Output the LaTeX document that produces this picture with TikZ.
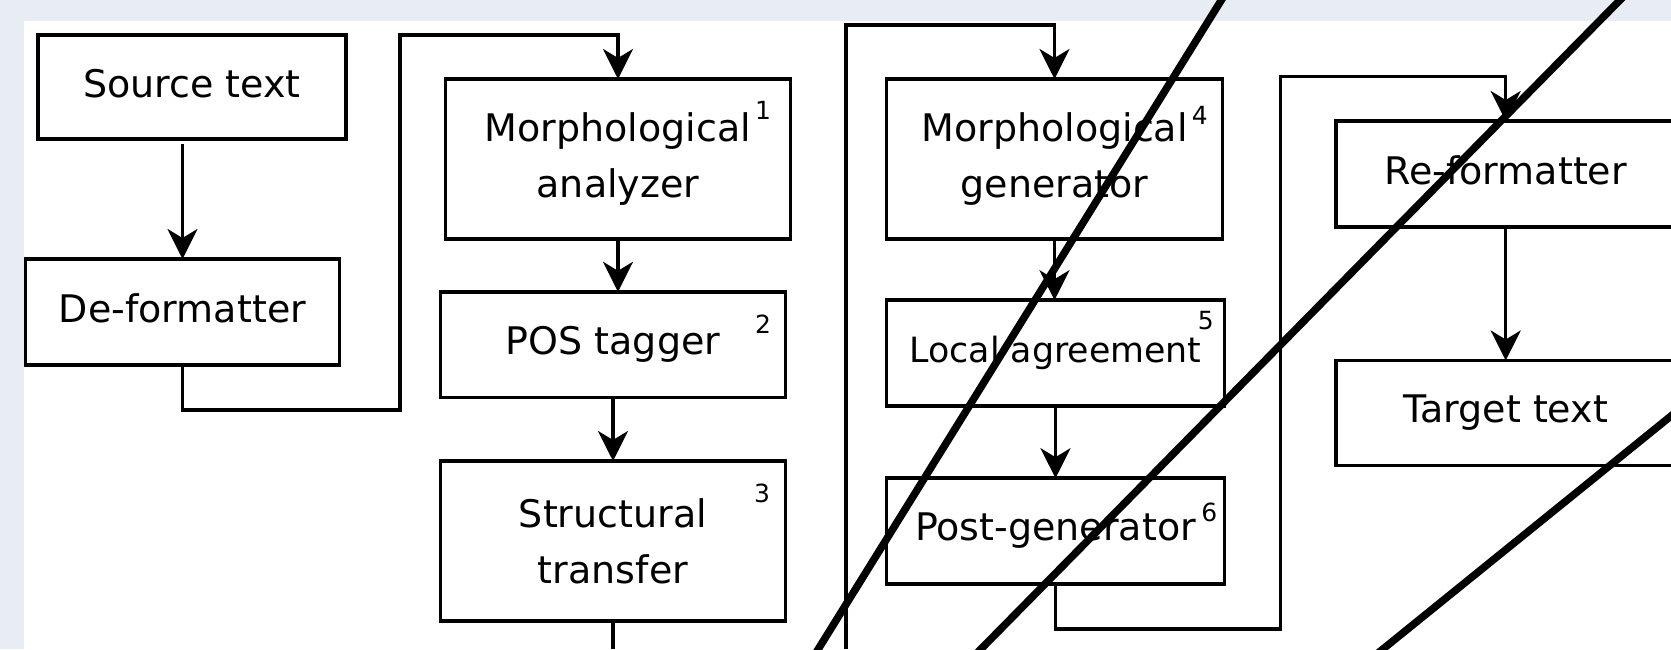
\documentclass[tikz,border=0pt]{standalone}
\usepackage{fontspec}
\setmainfont{DejaVu Sans}
\usetikzlibrary{positioning,arrows.meta}

\definecolor{pagebg}{HTML}{E8ECF4}

\tikzset{
  block/.style={draw, line width=1.75pt, minimum width=172.5pt, minimum height=52.8pt,
    inner sep=0pt, outer sep=0pt, align=center, font=\fontsize{19}{28}\selectfont},
  flat/.style={text depth=4pt},
  supnum/.style={inner sep=0pt, font=\fontsize{12.5}{14}\selectfont},
  wire/.style={line width=1.75pt},
  flow/.style={wire, -{Stealth[length=15pt,width=15pt,inset=4.5pt]}},
  strike/.style={line width=3.75pt, shorten <=-12pt, shorten >=-12pt}
}

\begin{document}
\begin{tikzpicture}

  % Page
  \useasboundingbox (0,0) rectangle (835.5pt,-324.5pt);
  \clip (0,0) rectangle (835.5pt,-324.5pt);
  \fill[pagebg] (0,0) rectangle (835.5pt,-324.5pt);
  \fill[white] (12pt,-10.5pt) rectangle (835.5pt,-324.5pt);

  % Define nodes
  \node[block, flat, minimum width=154pt, minimum height=52pt] (src)   at (96pt,-43.5pt) {Source text};
  \node[block, flat, minimum width=157pt, minimum height=53pt, below=60pt of src, xshift=-4.75pt] (defmt) {De-formatter};
  \node[block, minimum height=80pt, right=49.75pt of src, yshift=-36pt] (manal) {Morphological\\analyzer};
  \node[block, below=26.4pt of manal, xshift=-2.5pt]             (pos)   {POS tagger};
  \node[block, minimum height=80pt, below=31.8pt of pos]          (stru)  {Structural\\transfer};
  \node[block, minimum width=168pt, minimum height=80pt, right=48pt of manal] (mgen) {Morphological\\generator};
  \node[block, minimum width=169pt, below=30.6pt of mgen, xshift=0.5pt,
        font=\fontsize{17.4}{20}\selectfont]                       (lagr)  {Local agreement};
  \node[block, minimum width=169pt, below=36.2pt of lagr]         (pgen)  {Post-generator};
  \node[block, flat, minimum width=169.5pt, minimum height=53pt, right=56.85pt of mgen, yshift=-7.5pt] (refmt) {Re-formatter};
  \node[block, minimum width=169.5pt, minimum height=52.5pt, below=66.75pt of refmt] (tgt) {Target text};

  % Module numbers
  \node[supnum] (n1) at ([xshift=-13.75pt,yshift=-15.5pt]manal.north east) {1};
  \node[supnum] (n2) at ([xshift=-11.25pt,yshift=-16.1pt]pos.north east) {2};
  \node[supnum] (n3) at ([xshift=-11.75pt,yshift=-16pt]stru.north east) {3};
  \node[supnum] (n4) at ([xshift=-11.3pt,yshift=-18pt]mgen.north east) {4};
  \node[supnum] (n5) at ([xshift=-9.3pt,yshift=-10.4pt]lagr.north east) {5};
  \node[supnum] (n6) at ([xshift=-7.55pt,yshift=-17.2pt]pgen.north east) {6};

  % Lanes between the columns
  \coordinate (bot)   at (0,-324.5pt);
  \coordinate (lane1) at (200pt,-17.5pt);
  \coordinate (lane2) at (423pt,-12.4pt);
  \coordinate (lane3) at (640.25pt,-38.3pt);

  % Connect the nodes
  \draw[flow] ([yshift=-2.5pt]src.south -| defmt.north) -- (defmt.north);
  \draw[flow] (defmt.south) -- ++(0,-22.5pt) -| (lane1) -| (manal.north);
  \draw[flow] (manal.south) -- (manal.south |- pos.north);
  \draw[flow] (pos.south) -- (stru.north);
  \draw[wire] (stru.south) -- (stru.south |- bot);
  \draw[flow] (lane2 |- bot) -- (lane2) -| (mgen.north);
  \draw[flow] (mgen.south) -- (mgen.south |- lagr.north);
  \draw[flow] (lagr.south) -- (pgen.north);
  \draw[flow] (pgen.south) -- ++(0,-22.6pt) -| (lane3) -| (refmt.north);
  \draw[flow] (refmt.south) -- (tgt.north);

  % Strokes across the page
  \draw[strike] (610.7pt,0pt) -- (409.15pt,-324.5pt);
  \draw[strike] (810pt,0pt) -- (490.5pt,-324.5pt);
  \draw[strike] (835.5pt,-208pt) -- (691.5pt,-324.5pt);

\end{tikzpicture}
\end{document}
